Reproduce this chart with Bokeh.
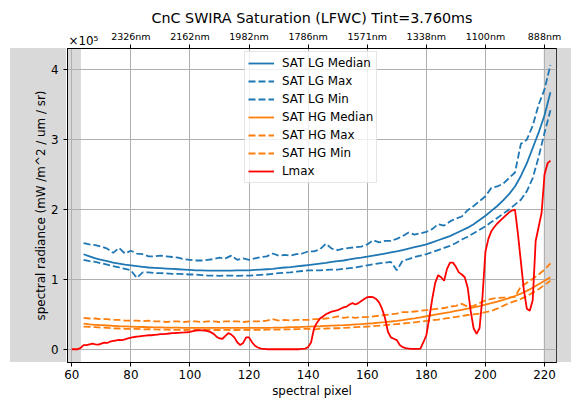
from bokeh.plotting import figure
from bokeh.models import Range1d, LinearAxis, FixedTicker, BoxAnnotation, Label
from bokeh.embed import file_html
from bokeh.resources import INLINE

FONT = "DejaVu Sans"

# ---------------- data (radiance in units of 1e5) ----------------
x_sat = list(range(64, 223, 2))

lg_median = [1.36, 1.33, 1.30, 1.28, 1.26, 1.24, 1.225, 1.21, 1.20, 1.19,
             1.18, 1.17, 1.165, 1.16, 1.155, 1.15, 1.145, 1.14, 1.135, 1.13,
             1.13, 1.125, 1.125, 1.125, 1.125, 1.125, 1.13, 1.13, 1.13, 1.135,
             1.14, 1.145, 1.15, 1.16, 1.17, 1.175, 1.185, 1.195, 1.205, 1.215,
             1.225, 1.235, 1.25, 1.26, 1.27, 1.285, 1.30, 1.31, 1.325, 1.34,
             1.355, 1.37, 1.385, 1.40, 1.42, 1.44, 1.46, 1.48, 1.50, 1.53,
             1.56, 1.59, 1.62, 1.66, 1.70, 1.74, 1.79, 1.85, 1.91, 1.98,
             2.05, 2.13, 2.22, 2.33, 2.48, 2.66, 2.88, 3.10, 3.35, 3.68]

lg_max = [1.52, 1.50, 1.49, 1.47, 1.44, 1.38, 1.45, 1.37, 1.41, 1.37,
          1.36, 1.33, 1.33, 1.34, 1.33, 1.32, 1.31, 1.29, 1.28, 1.27,
          1.27, 1.28, 1.29, 1.31, 1.30, 1.34, 1.28, 1.30, 1.28, 1.30,
          1.32, 1.33, 1.37, 1.34, 1.35, 1.34, 1.36, 1.37, 1.40, 1.40,
          1.43, 1.51, 1.44, 1.42, 1.44, 1.45, 1.46, 1.47, 1.50, 1.56,
          1.53, 1.55, 1.55, 1.58, 1.62, 1.67, 1.64, 1.66, 1.68, 1.72,
          1.79, 1.77, 1.83, 1.87, 1.90, 1.99, 2.05, 2.12, 2.19, 2.31,
          2.33, 2.37, 2.45, 2.53, 2.94, 3.00, 3.20, 3.50, 3.72, 4.07]

lg_min = [1.28, 1.26, 1.25, 1.23, 1.21, 1.19, 1.17, 1.15, 1.13, 1.02,
          1.10, 1.10, 1.09, 1.09, 1.085, 1.08, 1.08, 1.075, 1.07, 1.07,
          1.06, 1.055, 1.055, 1.05, 1.055, 1.055, 1.05, 1.055, 1.055, 1.06,
          1.065, 1.07, 1.08, 1.09, 1.095, 1.10, 1.11, 1.12, 1.13, 1.13,
          1.13, 1.135, 1.14, 1.14, 1.15, 1.16, 1.17, 1.185, 1.20, 1.215,
          1.23, 1.24, 1.25, 1.13, 1.27, 1.29, 1.32, 1.34, 1.36, 1.39,
          1.42, 1.45, 1.48, 1.52, 1.57, 1.61, 1.66, 1.71, 1.76, 1.82,
          1.88, 1.94, 2.00, 2.07, 2.14, 2.26, 2.45, 2.75, 3.10, 3.42]

hg_median = [0.365, 0.355, 0.35, 0.345, 0.34, 0.335, 0.33, 0.327, 0.324, 0.32,
             0.318, 0.316, 0.314, 0.312, 0.31, 0.309, 0.308, 0.307, 0.306, 0.305,
             0.305, 0.305, 0.305, 0.305, 0.305, 0.305, 0.305, 0.305, 0.305, 0.305,
             0.305, 0.307, 0.308, 0.31, 0.312, 0.315, 0.317, 0.32, 0.323, 0.326,
             0.329, 0.333, 0.337, 0.341, 0.345, 0.35, 0.355, 0.36, 0.366, 0.372,
             0.38, 0.388, 0.397, 0.407, 0.418, 0.43, 0.443, 0.457, 0.472, 0.487,
             0.502, 0.517, 0.532, 0.548, 0.564, 0.58, 0.598, 0.617, 0.638, 0.66,
             0.683, 0.707, 0.733, 0.762, 0.795, 0.835, 0.88, 0.93, 0.98, 1.03]

hg_max = [0.45, 0.44, 0.44, 0.43, 0.43, 0.42, 0.42, 0.41, 0.41, 0.41,
          0.40, 0.41, 0.40, 0.40, 0.39, 0.40, 0.40, 0.39, 0.40, 0.40,
          0.39, 0.40, 0.40, 0.39, 0.40, 0.40, 0.40, 0.39, 0.40, 0.40,
          0.40, 0.41, 0.43, 0.41, 0.42, 0.41, 0.42, 0.42, 0.42, 0.43,
          0.43, 0.44, 0.45, 0.47, 0.45, 0.46, 0.45, 0.46, 0.46, 0.47,
          0.48, 0.49, 0.50, 0.51, 0.53, 0.53, 0.54, 0.55, 0.56, 0.57,
          0.58, 0.59, 0.61, 0.62, 0.65, 0.61, 0.62, 0.66, 0.70, 0.72,
          0.735, 0.74, 0.74, 0.75, 0.90, 0.95, 1.01, 1.07, 1.14, 1.23]

hg_min = [0.325, 0.32, 0.315, 0.31, 0.305, 0.30, 0.297, 0.293, 0.29, 0.29,
          0.285, 0.287, 0.283, 0.28, 0.28, 0.278, 0.278, 0.275, 0.278, 0.275,
          0.275, 0.278, 0.275, 0.275, 0.278, 0.275, 0.275, 0.278, 0.275, 0.278,
          0.278, 0.28, 0.28, 0.282, 0.283, 0.285, 0.287, 0.29, 0.29, 0.28,
          0.295, 0.297, 0.30, 0.30, 0.305, 0.31, 0.315, 0.32, 0.325, 0.33,
          0.337, 0.345, 0.352, 0.36, 0.368, 0.376, 0.385, 0.395, 0.405, 0.415,
          0.425, 0.437, 0.45, 0.462, 0.475, 0.49, 0.50, 0.51, 0.53, 0.55,
          0.58, 0.62, 0.66, 0.69, 0.72, 0.76, 0.81, 0.86, 0.92, 0.98]

x_lmax = list(range(60, 223))
lmax = [0, 0, 0, 0.02, 0.06, 0.06, 0.07, 0.08, 0.07, 0.065,
        0.08, 0.095, 0.09, 0.11, 0.12, 0.125, 0.135, 0.13, 0.14, 0.155,
        0.165, 0.175, 0.18, 0.185, 0.19, 0.195, 0.20, 0.20, 0.205, 0.21,
        0.215, 0.215, 0.22, 0.225, 0.23, 0.232, 0.235, 0.238, 0.24, 0.243,
        0.25, 0.26, 0.268, 0.27, 0.27, 0.268, 0.26, 0.245, 0.22, 0.18,
        0.155, 0.15, 0.19, 0.23, 0.21, 0.17, 0.10, 0.06, 0.09, 0.17,
        0.17, 0.10, 0.05, 0.025, 0.01, 0.005, 0, 0, 0, 0,
        0, 0, 0, 0, 0, 0, 0, 0, 0.005, 0.01,
        0.03, 0.10, 0.30, 0.38, 0.44, 0.47, 0.50, 0.52, 0.54, 0.55,
        0.56, 0.58, 0.60, 0.61, 0.64, 0.66, 0.64, 0.66, 0.69, 0.72,
        0.745, 0.75, 0.745, 0.72, 0.67, 0.58, 0.45, 0.25, 0.17, 0.15,
        0.13, 0.06, 0.03, 0.015, 0.01, 0.005, 0.005, 0.005, 0.01, 0.10,
        0.20, 0.45, 0.72, 0.95, 1.06, 1.03, 0.98, 1.15, 1.24, 1.24,
        1.18, 1.10, 1.07, 1.03, 0.88, 0.55, 0.30, 0.22, 0.30, 0.75,
        1.40, 1.58, 1.69, 1.75, 1.80, 1.84, 1.88, 1.92, 1.96, 1.985,
        2.00, 1.65, 1.25, 0.85, 0.58, 0.55, 0.70, 1.55, 1.75, 1.95,
        2.50, 2.66, 2.70]

x_ticks = [60, 80, 100, 120, 140, 160, 180, 200, 220]
y_ticks = [0, 1, 2, 3, 4]
top_ticks = [80, 100, 120, 140, 160, 180, 200, 220]
top_labels = ["2326nm", "2162nm", "1982nm", "1786nm", "1571nm", "1338nm", "1100nm", "888nm"]

X0, X1 = 58.55, 224.05
Y0, Y1 = -0.19, 4.305

GRAY = "#d9d9d9"
# gray bands continue outside the axes frame: painted as the figure's backdrop
backdrop = {
    "background-color": "white",
    "background-image": f"linear-gradient({GRAY},{GRAY}), linear-gradient({GRAY},{GRAY})",
    "background-position": "10px 48px, 556px 48px",
    "background-size": "56px 314px, 15px 314px",
    "background-repeat": "no-repeat",
}

# ---------------- figure ----------------
p = figure(width=571, height=402, output_backend="svg", toolbar_location=None,
           x_range=Range1d(X0, X1), y_range=Range1d(Y0, Y1),
           min_border_left=66, min_border_right=15, min_border_top=48, min_border_bottom=40,
           title="CnC SWIRA Saturation (LFWC) Tint=3.760ms", styles=backdrop)
p.background_fill_color = "white"
p.border_fill_alpha = 0
p.outline_line_color = "black"
p.outline_line_width = 1
p.outline_line_alpha = 1

p.title.text_font = FONT
p.title.text_font_size = "14.3px"
p.title.text_font_style = "normal"
p.title.text_color = "black"
p.title.align = "center"
p.title.standoff = 4

# shaded regions inside the frame (under the grid)
for l, r in [(X0, 63.1), (219.7, X1)]:
    p.add_layout(BoxAnnotation(left=l, right=r, bottom=Y0, top=Y1,
                               fill_color=GRAY, fill_alpha=1, line_alpha=0,
                               level="image"))

p.xaxis.ticker = FixedTicker(ticks=x_ticks)
p.yaxis.ticker = FixedTicker(ticks=y_ticks)
p.xgrid.ticker = FixedTicker(ticks=x_ticks)
p.ygrid.ticker = FixedTicker(ticks=y_ticks)
for g in (p.xgrid, p.ygrid):
    g.grid_line_color = "#b0b0b0"
    g.grid_line_width = 1

for ax in (p.xaxis, p.yaxis):
    ax.axis_line_color = "black"
    ax.major_tick_line_color = "black"
    ax.major_tick_out = 4
    ax.major_tick_in = 0
    ax.minor_tick_line_color = None
    ax.major_label_text_font = FONT
    ax.major_label_text_font_size = "11.9px"
    ax.major_label_text_color = "black"
    ax.axis_label_text_font = FONT
    ax.axis_label_text_font_size = "11.9px"
    ax.axis_label_text_font_style = "normal"
    ax.axis_label_text_color = "black"

p.xaxis.axis_label = "spectral pixel"
p.xaxis.major_label_standoff = 3
p.xaxis.axis_label_standoff = 2
p.yaxis.axis_label = "spectral radiance (mW /m^2 / um / sr)"
p.yaxis.major_label_standoff = 5
p.yaxis.axis_label_standoff = 0

top = LinearAxis(ticker=FixedTicker(ticks=top_ticks),
                 major_label_overrides={t: s for t, s in zip(top_ticks, top_labels)})
top.axis_line_color = "black"
top.major_tick_line_color = "black"
top.major_tick_out = 4
top.major_tick_in = 0
top.minor_tick_line_color = None
top.major_label_standoff = 3
top.major_label_text_font = FONT
top.major_label_text_font_size = "9.5px"
top.major_label_text_color = "black"
p.add_layout(top, "above")

# ---------------- lines ----------------
BLUE = "#1f77b4"
ORANGE = "#ff7f0e"
LW = 1.8
DASH = "7 3"
p.line(x_sat, lg_median, line_color=BLUE, line_width=LW, legend_label="SAT LG Median")
p.line(x_sat, lg_max, line_color=BLUE, line_width=LW, line_dash=DASH, legend_label="SAT LG Max")
p.line(x_sat, lg_min, line_color=BLUE, line_width=LW, line_dash=DASH, legend_label="SAT LG Min")
p.line(x_sat, hg_median, line_color=ORANGE, line_width=LW, legend_label="SAT HG Median")
p.line(x_sat, hg_max, line_color=ORANGE, line_width=LW, line_dash=DASH, legend_label="SAT HG Max")
p.line(x_sat, hg_min, line_color=ORANGE, line_width=LW, line_dash=DASH, legend_label="SAT HG Min")
p.line(x_lmax, lmax, line_color="red", line_width=LW, legend_label="Lmax")

# offset text of the y axis (hosted in the left side panel so it is not clipped)
p.add_layout(Label(x=X0, y=Y1, x_offset=1, y_offset=1,
                   text="×10⁵", text_font=FONT, text_font_size="11.9px",
                   text_baseline="bottom", text_align="left", text_color="black"), "left")

lg = p.legend[0]
lg.location = (177, 179)
lg.label_text_font = FONT
lg.label_text_font_size = "11.9px"
lg.label_text_color = "black"
lg.glyph_width = 26
lg.glyph_height = 16
lg.label_height = 16
lg.label_standoff = 8
lg.spacing = 2
lg.padding = 3
lg.margin = 0
lg.border_line_color = "#cccccc"
lg.border_line_width = 1
lg.background_fill_alpha = 0.8

open("out.html", "w").write(file_html(p, INLINE))
